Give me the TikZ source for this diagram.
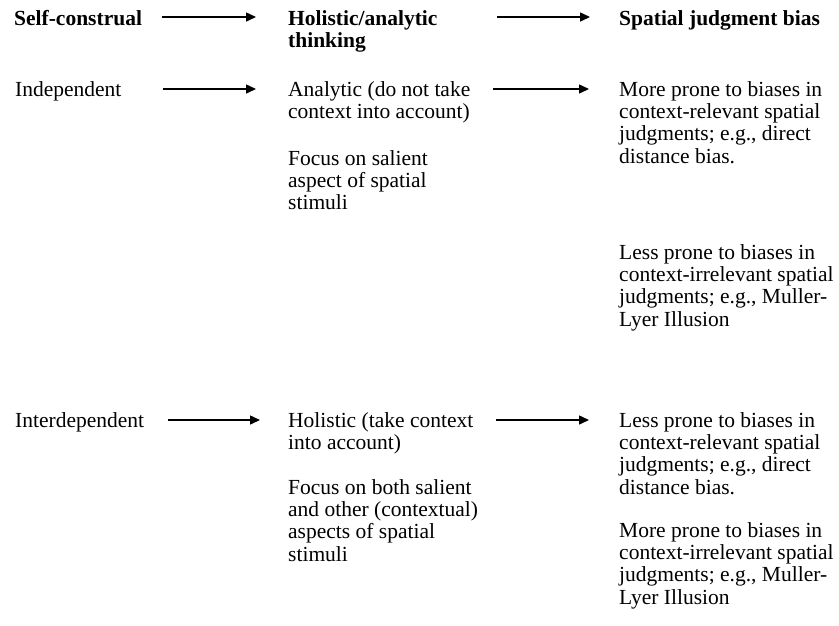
\documentclass[tikz,border=0pt]{standalone}
\usepackage{fontspec}
\setmainfont{Liberation Serif}
\usetikzlibrary{arrows.meta}
\tikzset{
  txt/.style={anchor=north west, inner sep=0pt, align=left, font=\fontsize{21.5}{22.3}\selectfont},
  hdr/.style={txt, font=\fontsize{21.5}{22.3}\selectfont\bfseries},
  arr/.style={line width=1.5pt, -{Triangle[length=10pt,width=9pt]}}
}
\begin{document}
\begin{tikzpicture}[x=1pt,y=-1pt]
\useasboundingbox (0,0) rectangle (839,625);
% headers (top = baseline - 15.6)
\node[hdr] (h1) at (14,9.4) {\strut Self-construal};
\node[hdr] (h2) at (288,9.4) {\strut Holistic/analytic\\thinking};
\node[hdr] (h3) at (619,9.4) {\strut Spatial judgment bias};
% independent row
\node[txt] (ind) at (15,80.4) {\strut Independent};
\node[txt] (ana) at (288,80.4) {\strut Analytic (do not take\\context into account)};
\node[txt] (foc1) at (288,149.4) {\strut Focus on salient\\aspect of spatial\\stimuli};
\node[txt] (more1) at (619,80.4) {\strut More prone to biases in\\context-relevant spatial\\judgments; e.g., direct\\distance bias.};
\node[txt] (less1) at (619,243.4) {\strut Less prone to biases in\\context-irrelevant spatial\\judgments; e.g., Muller-\\Lyer Illusion};
% interdependent row
\node[txt] (inter) at (15,411.4) {\strut Interdependent};
\node[txt] (hol) at (288,411.4) {\strut Holistic (take context\\into account)};
\node[txt] (foc2) at (288,478.4) {\strut Focus on both salient\\and other (contextual)\\aspects of spatial\\stimuli};
\node[txt] (less2) at (619,411.4) {\strut Less prone to biases in\\context-relevant spatial\\judgments; e.g., direct\\distance bias.};
\node[txt] (more2) at (619,521.4) {\strut More prone to biases in\\context-irrelevant spatial\\judgments; e.g., Muller-\\Lyer Illusion};
% arrow end points
\coordinate (a1s) at (162,17);  \coordinate (a1e) at (256,17);
\coordinate (a2s) at (497,17);  \coordinate (a2e) at (590,17);
\coordinate (b1s) at (163,89);  \coordinate (b1e) at (256,89);
\coordinate (b2s) at (493,89);  \coordinate (b2e) at (589,89);
\coordinate (c1s) at (168,420); \coordinate (c1e) at (260,420);
\coordinate (c2s) at (496,420); \coordinate (c2e) at (589,420);
\draw[arr] (a1s) -- (a1e);
\draw[arr] (a2s) -- (a2e);
\draw[arr] (b1s) -- (b1e);
\draw[arr] (b2s) -- (b2e);
\draw[arr] (c1s) -- (c1e);
\draw[arr] (c2s) -- (c2e);
\end{tikzpicture}
\end{document}
